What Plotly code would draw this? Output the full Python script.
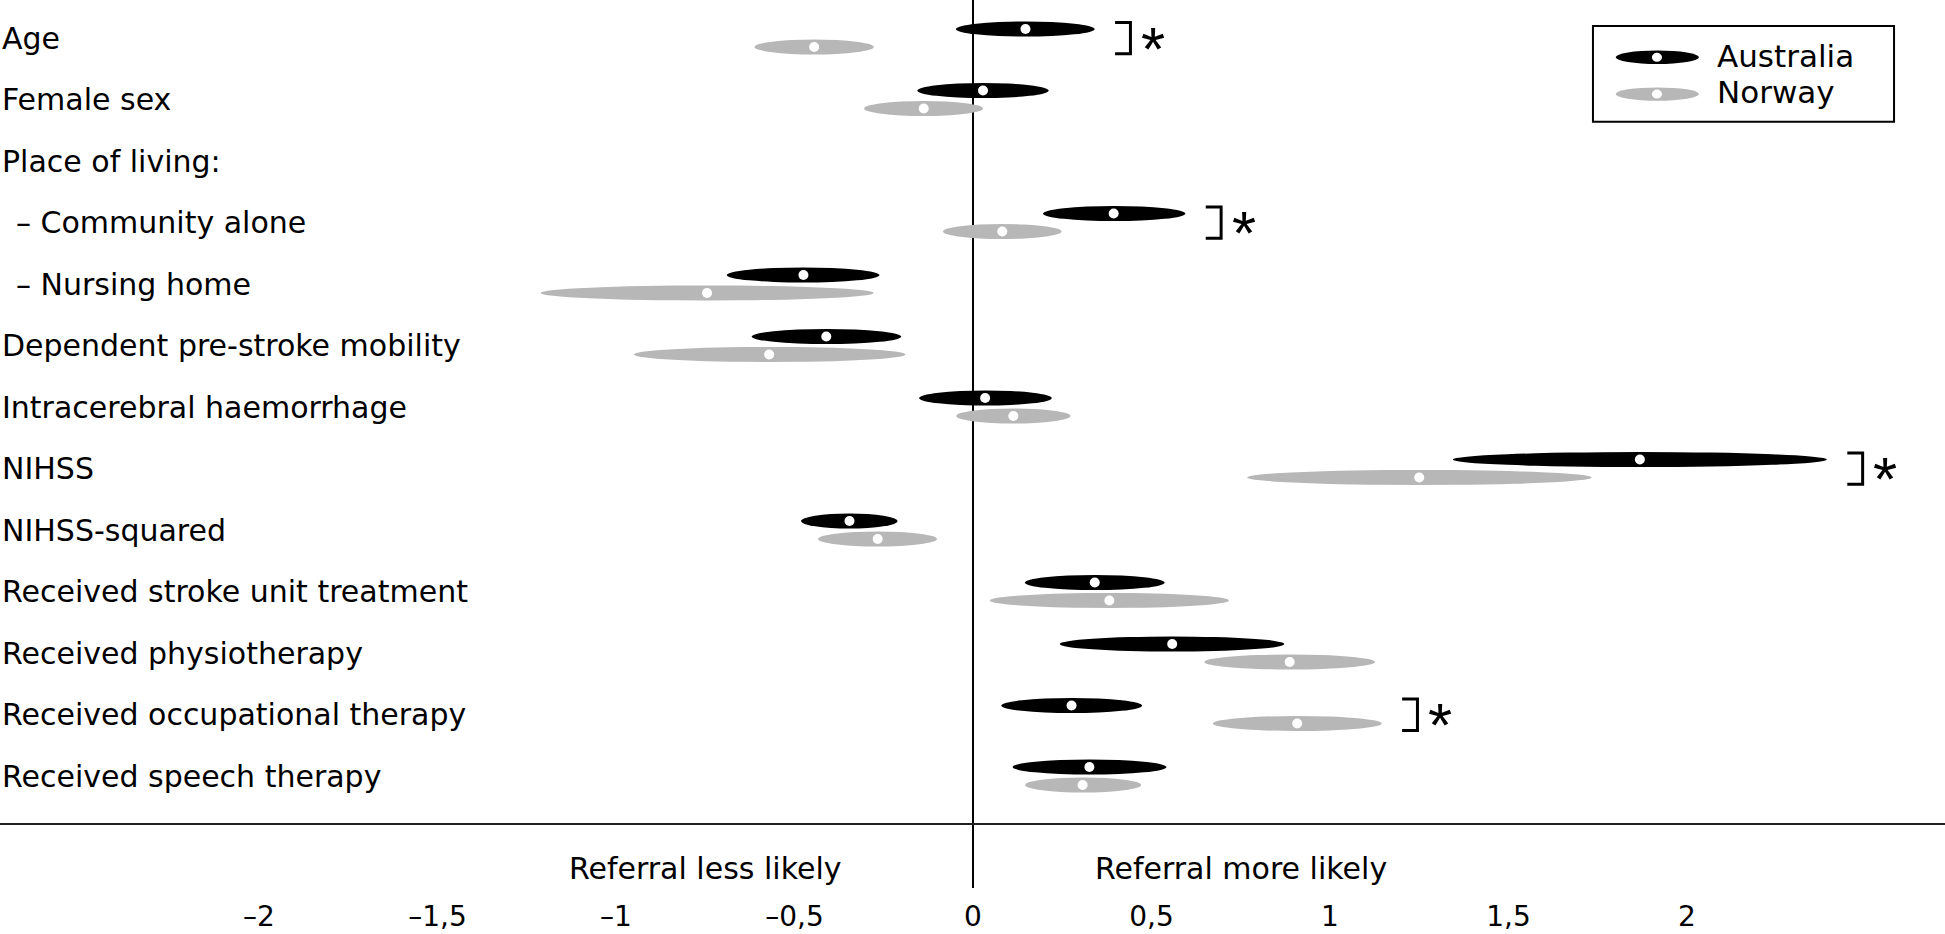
import plotly.graph_objects as go

# categories, top to bottom (None = header row without estimates)
labels = ["Age", "Female sex", "Place of living:", "– Community alone", "– Nursing home",
          "Dependent pre-stroke mobility", "Intracerebral haemorrhage", "NIHSS",
          "NIHSS-squared", "Received stroke unit treatment", "Received physiotherapy",
          "Received occupational therapy", "Received speech therapy"]

aus_est = [0.147, 0.028, None, 0.394, -0.475, -0.411, 0.034, 1.868, -0.346, 0.341, 0.558, 0.276, 0.326]
aus_lo = [-0.048, -0.156, None, 0.196, -0.690, -0.620, -0.151, 1.344, -0.482, 0.145, 0.243, 0.079, 0.111]
aus_hi = [0.341, 0.212, None, 0.595, -0.262, -0.201, 0.221, 2.392, -0.211, 0.537, 0.872, 0.474, 0.542]

nor_est = [-0.445, -0.138, None, 0.082, -0.745, -0.571, 0.113, 1.250, -0.267, 0.382, 0.887, 0.908, 0.307]
nor_lo = [-0.612, -0.305, None, -0.084, -1.211, -0.950, -0.047, 0.768, -0.434, 0.047, 0.648, 0.672, 0.146]
nor_hi = [-0.278, 0.028, None, 0.248, -0.278, -0.189, 0.273, 1.733, -0.101, 0.717, 1.126, 1.145, 0.471]

# rows with a significant country difference
significant = [True, False, False, True, False, False, False, True, False, False, False, True, False]

tick_vals = [-2, -1.5, -1, -0.5, 0, 0.5, 1, 1.5, 2]
tick_text = ["–2", "–1,5", "–1", "–0,5", "0", "0,5", "1", "1,5", "2"]

AUS_COLOR = "black"
NOR_COLOR = "#b7b7b7"
FONT = "DejaVu Sans"
OFF = 0.146   # vertical offset of each country from the row centre
HALF = 0.122  # half height of an ellipse

fig = go.Figure()
shapes = []
annotations = []

# ellipses for the intervals
for i in range(len(labels)):
    if aus_est[i] is None:
        continue
    for lo, hi, yc, col in [(aus_lo[i], aus_hi[i], i - OFF, AUS_COLOR),
                            (nor_lo[i], nor_hi[i], i + OFF, NOR_COLOR)]:
        shapes.append(dict(type="circle", xref="x", yref="y", x0=lo, x1=hi,
                           y0=yc - HALF, y1=yc + HALF, fillcolor=col,
                           line=dict(width=0), layer="below"))

# zero line and the horizontal axis line
shapes.append(dict(type="line", xref="x", yref="paper", x0=0, x1=0, y0=0, y1=1,
                   line=dict(color="black", width=2), layer="below"))
shapes.append(dict(type="line", xref="paper", yref="y", x0=0, x1=1, y0=12.78, y1=12.78,
                   line=dict(color="#222", width=2), layer="below"))

# brackets and asterisks
for i in range(len(labels)):
    if not significant[i]:
        continue
    bx = max(aus_hi[i], nor_hi[i]) + 0.1
    y_top = i - OFF - HALF + 0.015
    y_bot = i + OFF + HALF - 0.01
    shapes.append(dict(type="path", xref="x", yref="y",
                       path=f"M {bx - 0.043},{y_top} L {bx},{y_top} L {bx},{y_bot} L {bx - 0.043},{y_bot}",
                       line=dict(color="black", width=3)))
    annotations.append(dict(x=bx + 0.063, y=i, xref="x", yref="y", text="*", showarrow=False,
                            font=dict(family="Liberation Sans", size=62, color="black"),
                            yshift=-10))

# white dots at the estimates
fig.add_trace(go.Scatter(
    x=[v for v in aus_est if v is not None] + [v for v in nor_est if v is not None],
    y=[i - OFF for i, v in enumerate(aus_est) if v is not None] + [i + OFF for i, v in enumerate(nor_est) if v is not None],
    mode="markers", marker=dict(color="white", size=10, line=dict(width=0)),
    hoverinfo="skip", showlegend=False))

# row labels
for i, lab in enumerate(labels):
    annotations.append(dict(x=0, y=i, xref="paper", yref="y", text=lab, showarrow=False,
                            xanchor="left", yanchor="middle",
                            xshift=14 if lab.startswith("–") else 0,
                            font=dict(family=FONT, size=30, color="black")))

annotations.append(dict(x=-0.75, y=13.5, xref="x", yref="y", text="Referral less likely",
                        showarrow=False, font=dict(family=FONT, size=30, color="black")))
annotations.append(dict(x=0.75, y=13.5, xref="x", yref="y", text="Referral more likely",
                        showarrow=False, font=dict(family=FONT, size=30, color="black")))

# legend drawn by hand
shapes.append(dict(type="rect", xref="paper", yref="paper", x0=0.819, x1=0.9738, y0=0.863, y1=0.9707,
                   line=dict(color="black", width=2), fillcolor="white"))
for yc, col, name in [(0.9355, AUS_COLOR, "Australia"), (0.8941, NOR_COLOR, "Norway")]:
    shapes.append(dict(type="circle", xref="paper", yref="paper", x0=0.8307, x1=0.8735,
                       y0=yc - 0.0075, y1=yc + 0.0075, fillcolor=col, line=dict(width=0)))
    shapes.append(dict(type="circle", xref="paper", yref="paper", x0=0.8519 - 0.0026, x1=0.8519 + 0.0026,
                       y0=yc - 0.005, y1=yc + 0.005, fillcolor="white", line=dict(width=0)))
    annotations.append(dict(x=0.8817, y=yc + 0.002, xref="paper", yref="paper", text=name,
                            showarrow=False, xanchor="left", yanchor="middle",
                            font=dict(family=FONT, size=31, color="black")))

fig.update_layout(
    width=1945, height=934,
    margin=dict(l=0, r=0, t=0, b=46),
    paper_bgcolor="white", plot_bgcolor="white",
    shapes=shapes, annotations=annotations,
    xaxis=dict(range=[-2.7255, 2.7227], tickvals=tick_vals, ticktext=tick_text,
               showgrid=False, zeroline=False, showline=False, automargin=False,
               ticks="outside", ticklen=3, tickcolor="rgba(0,0,0,0)",
               tickfont=dict(family=FONT, size=28, color="black")),
    yaxis=dict(range=[13.821, -0.618], visible=False, automargin=False),
)

# the browser's default body margin would shift the chart by 8px
fig.write_html("out.html", config={"displayModeBar": False},
               post_script="document.body.style.margin='0';")
